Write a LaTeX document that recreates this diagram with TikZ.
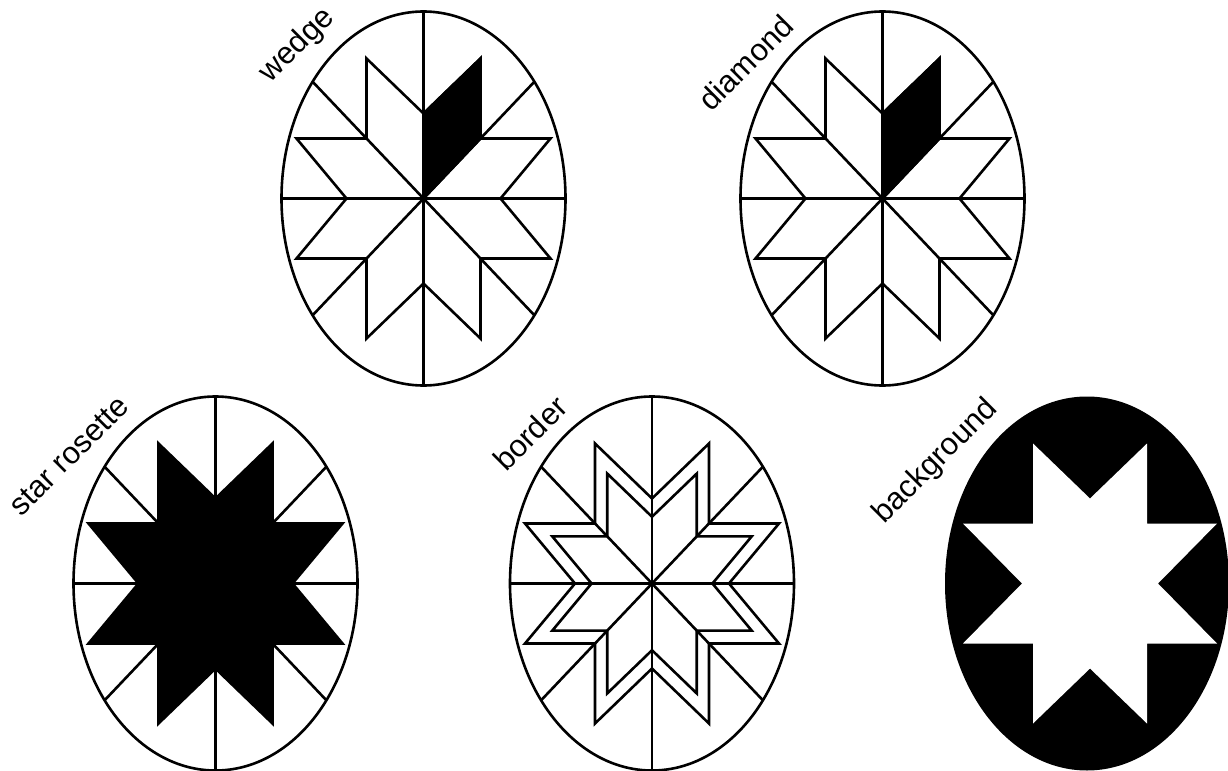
\documentclass[tikz,border=0pt]{standalone}
\usepackage{fontspec}
\setmainfont{Liberation Sans}
\usetikzlibrary{positioning}

% outline of the eight point star, centre at origin, #1 = side notch
\def\starline#1{(0,-85) -- (57,-140) -- (57,-60) -- (127,-60) -- (#1,0)
  -- (127,60) -- (57,60) -- (57,140) -- (0,85) -- (-57,140) -- (-57,60) -- (-127,60)
  -- (-#1,0) -- (-127,-60) -- (-57,-60) -- (-57,-140) -- cycle}
% ellipse and the eight spokes
\newcommand{\eggframe}{%
  \draw (0,0) ellipse [x radius=142, y radius=187];
  \foreach \a/\b in {0/187, 0/-187, 142/0, -142/0, 110.9/116.8, -110.9/116.8, 110.9/-116.8, -110.9/-116.8}
    \draw (0,0) -- (\a,\b);}

\begin{document}
\begin{tikzpicture}[x=0.5pt, y=-0.5pt, line width=1.3pt,
    lbl/.style={rotate=45, inner sep=0pt, font=\fontsize{15.5}{18}\selectfont}]
  \useasboundingbox (0,0) rectangle (1228,771);

  \coordinate (wedgeC)   at (423.5,198.5);
  \coordinate (diamondC) at (882.5,198.5);
  \coordinate (rosetteC) at (215.5,583.5);
  \coordinate (borderC)  at (652,583.5);
  \coordinate (backC)    at (1087,583.5);

  % wedge
  \begin{scope}[shift={(wedgeC)}]
    \eggframe
    \draw \starline{77};
    \draw[fill=black] (0,0) -- (0,-85) -- (57,-140) -- (57,-60) -- cycle;
  \end{scope}
  \node (wedgelbl) [lbl] at (297.5,45.8) {wedge};

  % diamond
  \begin{scope}[shift={(diamondC)}]
    \eggframe
    \draw \starline{77};
    \draw[fill=black] (0,0) -- (0,-85) -- (57,-140) -- (57,-60) -- cycle;
  \end{scope}
  \node (diamondlbl) [lbl] at (745.8,62.5) {diamond};

  % star rosette
  \begin{scope}[shift={(rosetteC)}]
    \eggframe
    \draw[fill=black] \starline{77};
  \end{scope}
  \node (rosettelbl) [lbl] at (69.2,455.8) {star rosette};

  % border
  \begin{scope}[shift={(borderC)}]
    \eggframe
    \draw \starline{77};
    \draw[scale=0.785] \starline{77};
  \end{scope}
  \node (borderlbl) [lbl] at (530,433.3) {border};

  % background
  \begin{scope}[shift={(backC)}]
    \fill[black] (0,0) ellipse [x radius=142, y radius=187];
    \fill[white, shift={(3,0)}] \starline{68};
  \end{scope}
  \node (backlbl) [lbl] at (935.8,461.7) {background};
\end{tikzpicture}
\end{document}
